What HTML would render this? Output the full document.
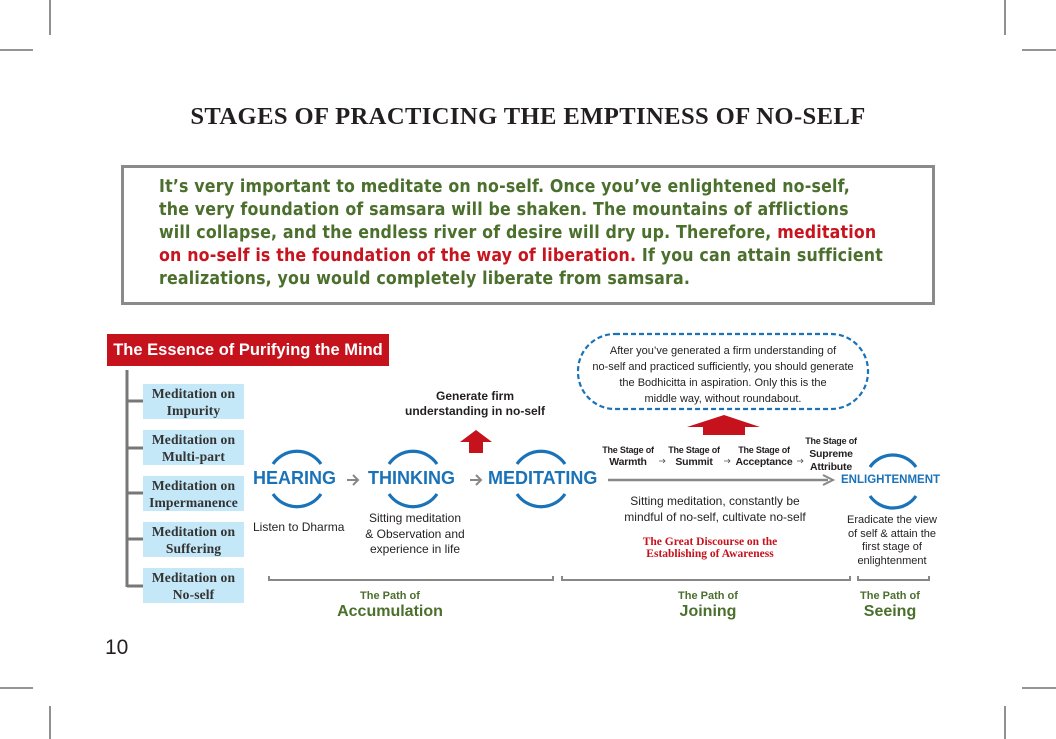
<!DOCTYPE html>
<html><head><meta charset="utf-8"><style>
body{margin:0;width:1056px;height:739px;background:#fff;position:relative;overflow:hidden;font-family:"Liberation Sans","DejaVu Sans",sans-serif}
.a{position:absolute;white-space:nowrap}
.c{text-align:center}
.title{left:0;width:1056px;top:103px;text-align:center;font-family:"Liberation Serif",serif;font-weight:bold;font-size:24.6px;color:#231f20;letter-spacing:0.4px}
.box{left:121px;top:165px;width:808px;height:134px;border:3px solid #8a8a8a}
.quote{left:159px;top:176px;font-size:17.6px;line-height:23px;font-weight:bold;color:#4b6f2c;font-family:"DejaVu Sans Condensed","Liberation Sans",sans-serif;letter-spacing:0.18px}
.red{color:#c8141e}
.banner{left:107px;top:334px;width:282px;height:32px;background:#c5121c;color:#fff;font-size:16.5px;line-height:32px;text-align:center;font-weight:bold;font-family:"Liberation Sans",sans-serif}
.mb{position:absolute;left:143px;width:101px;height:35px;background:#c5e8f8;font-family:"Liberation Serif",serif;font-weight:bold;font-size:13.6px;line-height:17px;text-align:center;color:#333;padding-top:1px;box-sizing:border-box;letter-spacing:0.1px}
.big{font-size:18px;font-weight:bold;color:#1a72b8}
.sm{font-size:12px;color:#231f20}
.st{font-size:9px;font-weight:bold;color:#231f20;line-height:12px;text-align:center;font-family:"Liberation Sans Narrow","Liberation Sans",sans-serif;letter-spacing:-0.2px}
.g1{font-size:11px;color:#4b6f2c;font-weight:bold}
.g2{font-size:16px;color:#4b6f2c;font-weight:bold}
</style></head><body>
<svg width="1056" height="739" style="position:absolute;left:0;top:0">
<g stroke="#555" stroke-width="1.3">
<line x1="50" y1="0" x2="50" y2="35"/><line x1="1005" y1="0" x2="1005" y2="35"/>
<line x1="0" y1="50" x2="33" y2="50"/><line x1="1022" y1="50" x2="1056" y2="50"/>
<line x1="0" y1="688" x2="33" y2="688"/><line x1="1022" y1="688" x2="1056" y2="688"/>
<line x1="50" y1="706" x2="50" y2="739"/><line x1="1005" y1="706" x2="1005" y2="739"/>
</g>
<g stroke="#777" stroke-width="3" fill="none">
<path d="M127 370 V587"/>
<path d="M127 401 H143 M127 448 H143 M127 493 H143 M127 539 H143 M127 586 H143"/>
</g>
<g stroke="#1a72b8" stroke-width="3.2" fill="none">
<path d="M273 464 A29 29 0 0 1 321 464"/><path d="M273 494 A29 29 0 0 0 321 494"/>
<path d="M389 464 A29 29 0 0 1 437 464"/><path d="M389 494 A29 29 0 0 0 437 494"/>
<path d="M517 464 A29 29 0 0 1 565 464"/><path d="M517 494 A29 29 0 0 0 565 494"/>
<path d="M870 467 A28 28 0 0 1 916 467"/><path d="M870 496 A28 28 0 0 0 916 496"/>
</g>
<g stroke="#888" stroke-width="2" fill="none">
<path d="M347 480 H357 M353 475 L358 480 L353 485"/>
<path d="M470 480 H480 M476 475 L481 480 L476 485"/>
</g>
<line x1="608" y1="480" x2="828" y2="480" stroke="#888" stroke-width="2.5"/>
<path d="M823 475 L833 480 L823 485" stroke="#888" stroke-width="2" fill="none"/>
<g stroke="#555" stroke-width="0.8" fill="none">
<path d="M659 461 H665 M663 459 L665 461 L663 463"/>
<path d="M724 461 H730 M728 459 L730 461 L728 463"/>
<path d="M797 461 H803 M801 459 L803 461 L801 463"/>
</g>
<polygon points="476,430 492,442 483,442 483,453 469,453 469,442 460,442" fill="#c5121c"/>
<polygon points="724,415 760,427 745,427 745,435 703,435 703,427 687,427" fill="#c5121c"/>
<rect x="578" y="334" width="290" height="75" rx="37" ry="37" fill="none" stroke="#1a72b8" stroke-width="2.2" stroke-dasharray="5,3"/>
<g stroke="#888" stroke-width="2" fill="none">
<path d="M269 576 V580 H553 V576"/>
<path d="M562 576 V580 H850 V576"/>
<path d="M858 576 V580 H929 V576"/>
</g>
</svg>
<div class="a title">STAGES OF PRACTICING THE EMPTINESS OF NO-SELF</div>
<div class="a box"></div>
<div class="a quote">It’s very important to meditate on no-self. Once you’ve enlightened no-self,<br>the very foundation of samsara will be shaken. The mountains of afflictions<br>will collapse, and the endless river of desire will dry up. Therefore, <span class="red">meditation</span><br><span class="red">on no-self is the foundation of the way of liberation.</span> If you can attain sufficient<br>realizations, you would completely liberate from samsara.</div>
<div class="a banner">The Essence of Purifying the Mind</div>
<div class="mb" style="top:384px">Meditation on<br>Impurity</div>
<div class="mb" style="top:430px">Meditation on<br>Multi-part</div>
<div class="mb" style="top:476px">Meditation on<br>Impermanence</div>
<div class="mb" style="top:522px">Meditation on<br>Suffering</div>
<div class="mb" style="top:568px">Meditation on<br>No-self</div>
<div class="a big" style="left:253px;top:468px">HEARING</div>
<div class="a big" style="left:368px;top:468px">THINKING</div>
<div class="a big" style="left:488px;top:468px">MEDITATING</div>
<div class="a" style="left:841px;top:474px;font-size:11.5px;font-weight:bold;color:#1a72b8">ENLIGHTENMENT</div>
<div class="a sm" style="left:253px;top:520px">Listen to Dharma</div>
<div class="a sm c" style="left:350px;width:130px;top:511px;line-height:15.5px">Sitting meditation<br>&amp; Observation and<br>experience in life</div>
<div class="a c" style="left:395px;width:160px;top:389px;font-size:12px;font-weight:bold;line-height:15px;color:#231f20">Generate firm<br>understanding in no-self</div>
<div class="a c" style="left:580px;width:286px;top:343px;font-size:11px;line-height:16px;color:#231f20">After you’ve generated a firm understanding of<br>no-self and practiced sufficiently, you should generate<br>the Bodhicitta in aspiration. Only this is the<br>middle way, without roundabout.</div>
<div class="a st" style="left:598px;width:60px;top:444px">The Stage of<br><span style="font-size:10.5px">Warmth</span></div>
<div class="a st" style="left:665px;width:58px;top:444px">The Stage of<br><span style="font-size:10.5px">Summit</span></div>
<div class="a st" style="left:732px;width:64px;top:444px">The Stage of<br><span style="font-size:10.5px">Acceptance</span></div>
<div class="a st" style="left:802px;width:58px;top:435px;line-height:13px">The Stage of<br><span style="font-size:10.5px">Supreme<br>Attribute</span></div>
<div class="a sm c" style="left:605px;width:220px;top:493px;line-height:16px">Sitting meditation, constantly be<br>mindful of no-self, cultivate no-self</div>
<div class="a c" style="left:610px;width:200px;top:536px;font-family:'Liberation Serif',serif;font-weight:bold;font-size:11.5px;line-height:12px;color:#c5121c">The Great Discourse on the<br>Establishing of Awareness</div>
<div class="a c" style="left:836px;width:112px;top:514px;font-size:11px;line-height:13.5px;color:#231f20">Eradicate the view<br>of self &amp; attain the<br>first stage of<br>enlightenment</div>
<div class="a c g1" style="left:330px;width:120px;top:590px">The Path of</div>
<div class="a c g2" style="left:310px;width:160px;top:603px">Accumulation</div>
<div class="a c g1" style="left:648px;width:120px;top:590px">The Path of</div>
<div class="a c g2" style="left:648px;width:120px;top:603px">Joining</div>
<div class="a c g1" style="left:840px;width:100px;top:590px">The Path of</div>
<div class="a c g2" style="left:840px;width:100px;top:603px">Seeing</div>
<div class="a" style="left:105px;top:636px;font-size:21px;color:#231f20">10</div>
</body></html>
